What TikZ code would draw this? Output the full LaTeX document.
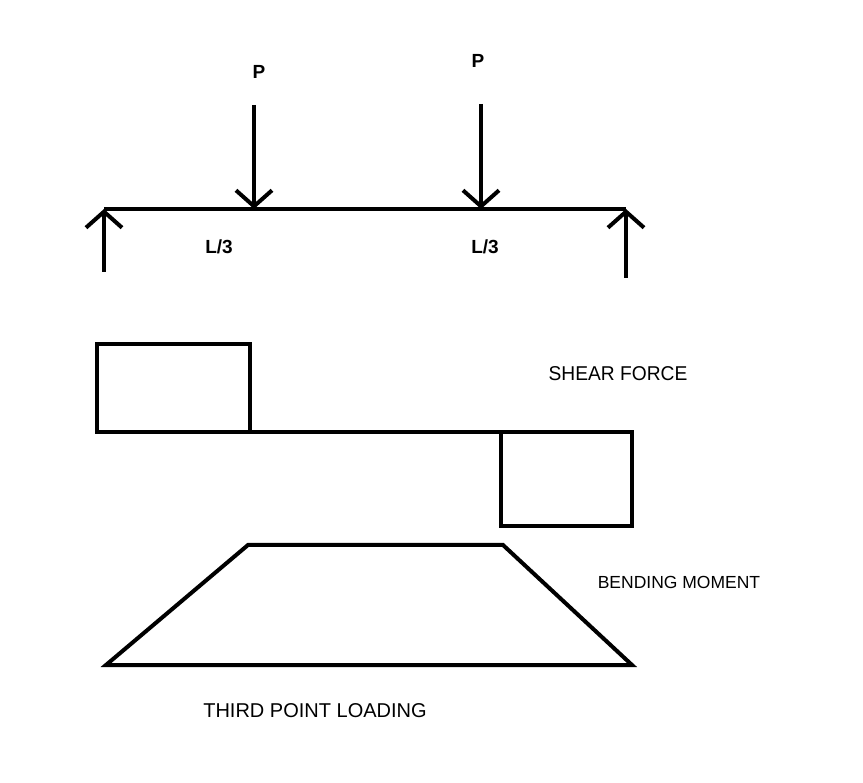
\documentclass[tikz,border=0pt]{standalone}
\usepackage{fontspec}
\setmainfont{Liberation Sans}
\usetikzlibrary{arrows.meta,positioning}
\tikzset{
  % thick pen line
  beam/.style={line width=4pt},
  % open arrow head
  force/.style={
    line width=4pt,
    -{Straight Barb[length=16pt, width=36pt, line width=4pt]}
  },
  % bold labels
  lab/.style={font=\fontsize{19}{22}\selectfont\bfseries},
  % captions
  caption/.style={font=\fontsize{20}{23}\selectfont},
}

\begin{document}
\begin{tikzpicture}[x=1pt, y=-1pt]
        \useasboundingbox (0,0) rectangle (863,783);

        % beam
        \coordinate (A) at (104,209);
        \coordinate (B) at (626,209);
        \coordinate (C) at (254,209);
        \coordinate (D) at (481,209);
        \draw[beam] (A) -- (B);

        % supports
        \coordinate (Ra) at (104,272);
        \coordinate (Rb) at (626,278);
        \draw[force] (Ra) -- (A);
        \draw[force] (Rb) -- (B);

        % point loads
        \node[lab] (P1) at (259,72) {P};
        \node[lab] (P2) at (478,61) {P};
        \coordinate (Ct) at (254,105);
        \coordinate (Dt) at (481,104);
        \draw[force] (Ct) -- (C);
        \draw[force] (Dt) -- (D);
        \node[lab] (L1) at (219,247) {L/3};
        \node[lab] (L2) at (485,247) {L/3};

        % shear force
        \draw[beam] (97,344) rectangle (250,432);
        \draw[beam] (97,432) -- (632,432);
        \draw[beam] (501,432) rectangle (632,526);
        \node[caption, xscale=0.96, transform shape] (sf) at (618,374) {SHEAR FORCE};

        % bending moment
        \draw[beam, line join=miter] (106,665) -- (248,545) -- (503,545) -- (632,665) -- cycle;
        \node[caption, font=\fontsize{17.5}{21}\selectfont] (bm) at (679,582) {BENDING MOMENT};

        % title
        \node[caption] (tpl) at (315,711) {THIRD POINT LOADING};
    \end{tikzpicture}
\end{document}
